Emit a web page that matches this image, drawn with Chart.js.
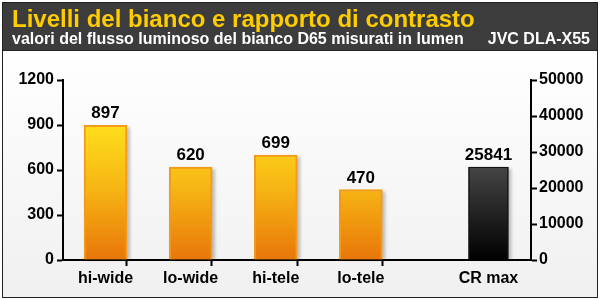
<!DOCTYPE html>
<html>
<head>
<meta charset="utf-8">
<script src="https://cdn.jsdelivr.net/npm/chart.js@4.4.1/dist/chart.umd.min.js"></script>
<style>
  html, body { margin: 0; padding: 0; background: #fff; }
  #wrap { width: 600px; height: 300px; }
</style>
</head>
<body>
<div id="wrap"><canvas id="chart" width="600" height="300"></canvas></div>
<script>
// Data
const categories = ['hi-wide', 'lo-wide', 'hi-tele', 'lo-tele'];
const lumens = [897, 620, 699, 470];
const crCategory = 'CR max';
const crValues = [25841];
const leftTicks = [0, 300, 600, 900, 1200];
const rightTicks = [0, 10000, 20000, 30000, 40000, 50000];

const title = 'Livelli del bianco e rapporto di contrasto';
const subtitle = 'valori del flusso luminoso del bianco D65 misurati in lumen';
const model = 'JVC DLA-X55';

const FONT = "'Liberation Sans', Arial, sans-serif";

// slot grid: bars sit on odd slots, CR max a bit further right
const slots = ['', categories[0], '', categories[1], '', categories[2], '', categories[3], '', '', crCategory, ''];
const boundaryTicks = [2, 4, 6, 8];

// Background, frame and header
const backdrop = {
    id: 'backdrop',
    beforeDraw(chart) {
        const c = chart.ctx;
        c.save();
        c.fillStyle = '#fff';
        c.fillRect(0, 0, 600, 300);
        const g = c.createLinearGradient(0, 50, 0, 297);
        g.addColorStop(0, '#ffffff');
        g.addColorStop(1, '#f0f0f0');
        c.fillStyle = g;
        c.fillRect(2, 2, 596, 296);
        c.fillStyle = '#3c3c3c';
        c.fillRect(2, 2, 596, 48);
        c.strokeStyle = '#222';
        c.lineWidth = 1;
        c.strokeRect(2.5, 2.5, 595, 295);
        c.beginPath();
        c.moveTo(2, 50.5);
        c.lineTo(598, 50.5);
        c.stroke();

        c.textBaseline = 'alphabetic';
        c.fillStyle = '#ffcc00';
        c.font = 'bold 24px ' + FONT;
        c.textAlign = 'left';
        c.fillText(title, 12, 27);
        c.fillStyle = '#fff';
        c.font = 'bold 16px ' + FONT;
        c.fillText(subtitle, 12, 44);
        c.textAlign = 'right';
        c.fillText(model, 590, 44);
        c.restore();
    }
};

// soft shadow behind bars
const barShadow = {
    id: 'barShadow',
    beforeDatasetsDraw(chart) {
        const c = chart.ctx;
        c.save();
        c.fillStyle = 'rgba(0,0,0,0.22)';
        c.filter = 'blur(1.5px)';
        chart.data.datasets.forEach((ds, i) => {
            chart.getDatasetMeta(i).data.forEach(bar => {
                const p = bar.getProps(['x', 'y', 'base', 'width'], true);
                c.fillRect(p.x - p.width / 2 + 3, p.y + 2, p.width, p.base - p.y - 2);
            });
        });
        c.restore();
    }
};

// values above bars
const valueLabels = {
    id: 'valueLabels',
    afterDatasetsDraw(chart) {
        const c = chart.ctx;
        c.save();
        c.font = 'bold 17px ' + FONT;
        c.fillStyle = '#000';
        c.textAlign = 'center';
        c.textBaseline = 'alphabetic';
        chart.data.datasets.forEach((ds, i) => {
            chart.getDatasetMeta(i).data.forEach((bar, j) => {
                const p = bar.getProps(['x', 'y'], true);
                c.fillText(String(ds.data[j].y), p.x, p.y - 7);
            });
        });
        c.restore();
    }
};

function orangeFill(context) {
    const area = context.chart.chartArea;
    if (!area) return '#f5b015';
    const g = context.chart.ctx.createLinearGradient(0, area.top + 40, 0, area.bottom);
    g.addColorStop(0, '#ffe21c');
    g.addColorStop(0.5, '#f6b414');
    g.addColorStop(1, '#e8760a');
    return g;
}

function blackFill(context) {
    const area = context.chart.chartArea;
    if (!area) return '#222';
    const g = context.chart.ctx.createLinearGradient(0, area.top + 80, 0, area.bottom);
    g.addColorStop(0, '#4a4a4a');
    g.addColorStop(1, '#000000');
    return g;
}

const tickFont = { family: FONT, size: 16, weight: 'bold' };
const plainNumber = v => String(v);

const ctx = document.getElementById('chart').getContext('2d');
const chart = new Chart(ctx, {
    type: 'bar',
    data: {
        labels: slots,
        datasets: [{
            label: 'lumen',
            data: lumens.map((v, i) => ({ x: categories[i], y: v })),
            yAxisID: 'y',
            backgroundColor: orangeFill,
            borderColor: '#f39a1a',
            borderWidth: 2,
            borderSkipped: 'bottom',
            barThickness: 43
        }, {
            label: 'CR',
            data: crValues.map(v => ({ x: crCategory, y: v })),
            yAxisID: 'y1',
            backgroundColor: blackFill,
            borderColor: '#111',
            borderWidth: 1.5,
            borderSkipped: 'bottom',
            barThickness: 40
        }]
    },
    options: {
        responsive: false,
        animation: false,
        devicePixelRatio: 1,
        layout: { padding: { left: 5, right: 5, top: 80, bottom: 5 } },
        datasets: { bar: { grouped: false } },
        plugins: {
            legend: { display: false },
            tooltip: { enabled: false }
        },
        scales: {
            x: {
                type: 'category',
                offset: false,
                grid: {
                    drawOnChartArea: false,
                    tickLength: 6,
                    tickWidth: 2,
                    tickColor: c => boundaryTicks.includes(c.index) ? '#000' : 'rgba(0,0,0,0)'
                },
                border: { color: '#000', width: 2 },
                ticks: { autoSkip: false, maxRotation: 0, font: tickFont, color: '#000', padding: 3 },
                afterFit: s => { s.height = 35; }
            },
            y: {
                position: 'left',
                min: 0,
                max: 1200,
                grid: { drawOnChartArea: false, tickLength: 6, tickWidth: 2, tickColor: '#000' },
                border: { color: '#000', width: 2 },
                ticks: { font: tickFont, color: '#000', padding: 3, callback: plainNumber },
                afterBuildTicks: s => { s.ticks = leftTicks.map(v => ({ value: v })); },
                afterFit: s => { s.width = 58; }
            },
            y1: {
                position: 'right',
                min: 0,
                max: 50000,
                grid: { drawOnChartArea: false, tickLength: 6, tickWidth: 2, tickColor: '#000' },
                border: { color: '#000', width: 2 },
                ticks: { font: tickFont, color: '#000', padding: 2, callback: plainNumber },
                afterBuildTicks: s => { s.ticks = rightTicks.map(v => ({ value: v })); },
                afterFit: s => { s.width = 64; }
            }
        }
    },
    plugins: [backdrop, barShadow, valueLabels]
});
</script>
</body>
</html>
